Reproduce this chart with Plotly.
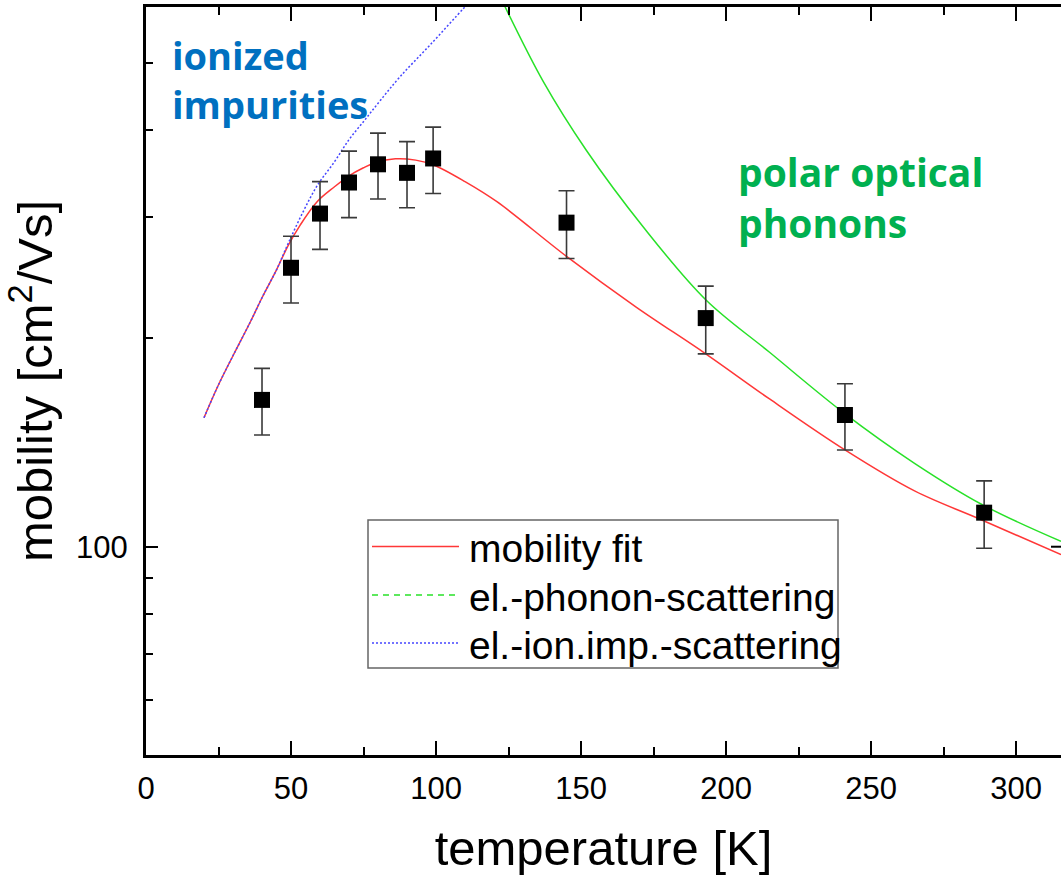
import plotly.graph_objects as go

# measured Hall mobility
temperature = [40, 50, 60, 70, 80, 90, 99, 145, 193, 241, 289]
mobility = [163, 253, 303, 336, 357, 347, 364, 294, 214, 155, 112]
mobility_err = [18, 28, 34, 37, 39, 38, 40, 33, 24, 17, 12.5]

# combined mobility fit
fit_T = [20, 25, 30, 36, 40, 45, 49, 53, 59, 65, 70, 75, 79, 86, 93, 99,
         110, 121, 145, 169, 193, 215, 241, 265, 288, 315.5]
fit_mu = [153.6, 171.4, 188.8, 211.4, 229, 251.3, 272.3, 290.9, 315.2, 331.3,
          343.6, 352.9, 358.8, 363.6, 362, 356.5, 337, 315.2, 262.8, 222, 190,
          163.5, 138, 120.4, 109.4, 97.4]

# polar optical phonon scattering limit
phonon_T = [118, 123.8, 137, 151.7, 171.4, 193, 215, 240.7, 265, 288.4, 315.5]
phonon_mu = [680, 603, 470, 374.7, 290, 227.5, 191, 156, 132, 115, 101.8]

# ionized impurity scattering limit
ion_T = [20, 25, 30, 36, 40, 45, 49, 54, 59, 65, 70, 75.5, 81, 87.6, 98, 110, 115]
ion_mu = [153.6, 171.4, 188.8, 211.4, 229, 251.3, 274.2, 303.8, 332.4, 360.1,
          387.5, 414, 442.6, 477.8, 531.4, 603, 636]

legend_labels = ["mobility fit", "el.-phonon-scattering", "el.-ion.imp.-scattering"]

RED = "rgb(255,55,55)"
GREEN = "rgb(40,225,40)"
BLUE = "rgb(70,70,255)"

W, H = 1061, 875
L, R, T, B = 146, 1061, 7, 755  # plot area in pixels


def px_x(p):
    return (p - L) / (R - L)


def px_y(p):
    return (B - p) / (B - T)


fig = go.Figure()

fig.add_trace(go.Scatter(x=phonon_T, y=phonon_mu, mode="lines", line_shape="spline",
                         line=dict(color=GREEN, width=1.5), showlegend=False))
fig.add_trace(go.Scatter(x=fit_T, y=fit_mu, mode="lines", line_shape="spline",
                         line=dict(color=RED, width=1.5), showlegend=False))
fig.add_trace(go.Scatter(x=ion_T, y=ion_mu, mode="lines", line_shape="spline",
                         line=dict(color=BLUE, width=1.5, dash="2px,2px"),
                         showlegend=False))
fig.add_trace(go.Scatter(
    x=temperature, y=mobility, mode="markers",
    marker=dict(symbol="square", size=16, color="black"),
    error_y=dict(type="data", array=mobility_err, symmetric=True,
                 color="#3a3a3a", thickness=1.6, width=8),
    showlegend=False))

ARIAL = "Arial, Liberation Sans, sans-serif"
axis_font = dict(family=ARIAL, size=31, color="black")

fig.update_xaxes(
    range=[0, 315.5], tickvals=[0, 50, 100, 150, 200, 250, 300],
    ticks="inside", ticklen=14, tickwidth=2, tickcolor="black",
    minor=dict(tickvals=[25, 75, 125, 175, 225, 275], ticks="inside",
               ticklen=8, tickwidth=2, tickcolor="black"),
    showline=True, linewidth=3, linecolor="black", mirror="allticks",
    showgrid=False, zeroline=False, tickfont=axis_font, ticklabelstandoff=4,
    title=dict(text="temperature [K]", standoff=26,
               font=dict(family=ARIAL, size=49, color="black")),
)

fig.update_yaxes(
    type="log", range=[1.699, 2.780], tickvals=[100], ticktext=["100"],
    ticks="inside", ticklen=12, tickwidth=2, tickcolor="black",
    minor=dict(tickvals=[60, 70, 80, 90, 200, 300, 400, 500], ticks="inside",
               ticklen=7, tickwidth=2, tickcolor="black"),
    showline=True, linewidth=3, linecolor="black", mirror=False,
    showgrid=False, zeroline=False, tickfont=axis_font, ticklabelstandoff=9,
    title=dict(text="mobility [cm<sup>2</sup>/Vs]", standoff=8,
               font=dict(family=ARIAL, size=49, color="black")),
)

shapes = []
# right-hand axis tick at 100 at the edge of the frame
shapes.append(dict(type="line", xref="paper", yref="y", x0=1 - 10 / (R - L), x1=1,
                   y0=100, y1=100, line=dict(color="black", width=2)))

# legend frame
shapes.append(dict(type="rect", xref="paper", yref="paper",
                   x0=px_x(368), x1=px_x(838), y0=px_y(668), y1=px_y(520),
                   line=dict(color="#666666", width=1.5), fillcolor="white",
                   layer="above"))
rows = [546.5, 595, 643]
styles = [dict(color=RED, width=1.5),
          dict(color=GREEN, width=1.5, dash="6px,5px"),
          dict(color=BLUE, width=1.5, dash="2px,2px")]
annotations = []
for row, style, label in zip(rows, styles, legend_labels):
    shapes.append(dict(type="line", xref="paper", yref="paper",
                       x0=px_x(372), x1=px_x(459), y0=px_y(row), y1=px_y(row),
                       line=style, layer="above"))
    annotations.append(dict(xref="paper", yref="paper", x=px_x(467), y=px_y(row + 2),
                            xanchor="left", yanchor="middle", showarrow=False,
                            text=label,
                            font=dict(family=ARIAL, size=39, color="black")))

label_font = "Open Sans, sans-serif"
annotations.append(dict(xref="paper", yref="paper", x=px_x(170), y=px_y(80),
                        xanchor="left", yanchor="middle", align="left", showarrow=False,
                        text="ionized<br>impurities",
                        font=dict(family=label_font, size=38, color="#0070C0", weight="bold")))
annotations.append(dict(xref="paper", yref="paper", x=px_x(736), y=px_y(197),
                        xanchor="left", yanchor="middle", align="left", showarrow=False,
                        text="polar optical<br>phonons",
                        font=dict(family=label_font, size=39, color="#00B050", weight="bold")))

fig.update_layout(
    width=W, height=H,
    margin=dict(l=L, r=W - R, t=T, b=H - B, autoexpand=False),
    paper_bgcolor="white", plot_bgcolor="white",
    shapes=shapes, annotations=annotations, showlegend=False,
)

fig.write_html("out.html")
